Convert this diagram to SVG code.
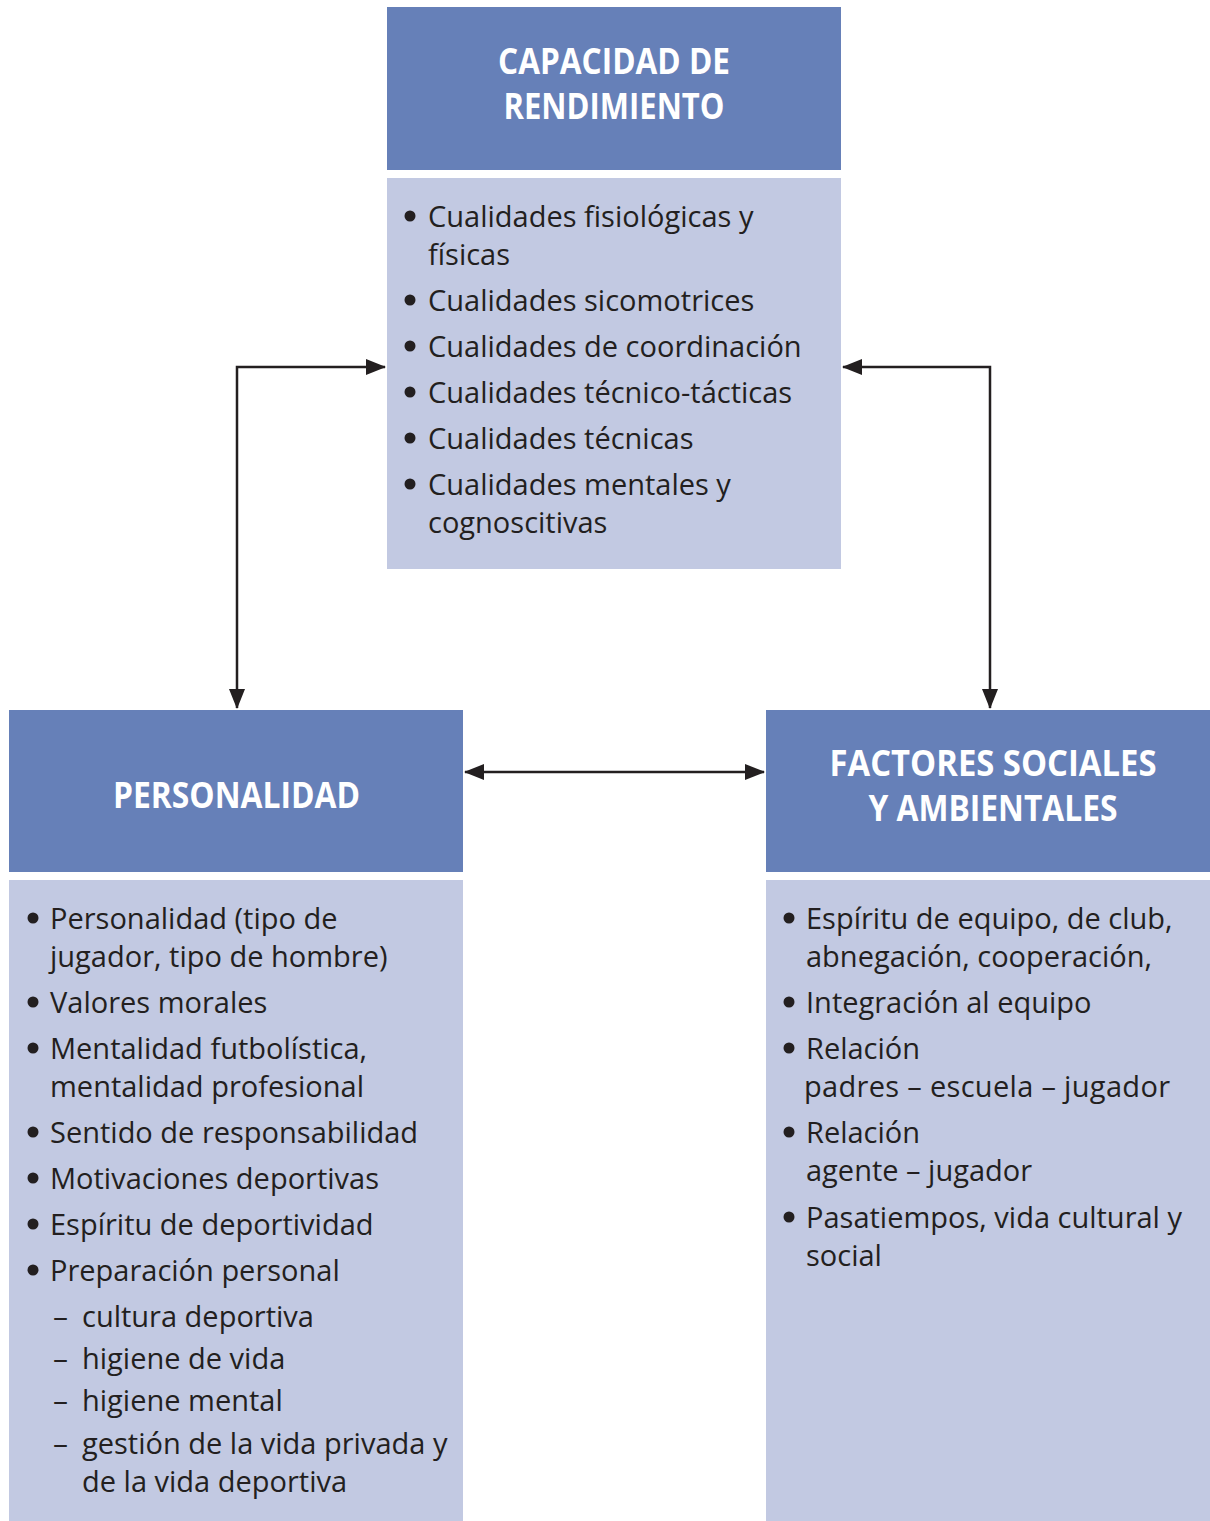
<svg xmlns="http://www.w3.org/2000/svg" width="1210" height="1521" viewBox="0 0 1210 1521">
<style>
.hd{fill:#6680B8}
.bd{fill:#C2C9E2}
.ht{font-family:"Open Sans","Noto Sans",sans-serif;font-weight:700;font-size:35px;fill:#ffffff;text-anchor:middle}
.t{font-family:"Open Sans","Noto Sans",sans-serif;font-size:29px;fill:#231F20}
.d{font-family:"Open Sans","Noto Sans",sans-serif;font-size:29px;fill:#231F20}
.b{fill:#231F20}
.c{fill:none;stroke:#231F20;stroke-width:2.5}
</style>
<defs>
<marker id="ah" viewBox="0 0 20 16" refX="19" refY="8" markerWidth="20" markerHeight="16" markerUnits="userSpaceOnUse" orient="auto-start-reverse">
<path d="M0,0 L20,8 L0,16 Z" fill="#231F20"/>
</marker>
</defs>
<rect width="1210" height="1521" fill="#ffffff"/>
<g id="capacidad">
<rect class="hd" x="387" y="7" width="454" height="163"/>
<rect class="bd" x="387" y="178" width="454" height="391"/>
<text class="ht" x="614" y="74" textLength="232" lengthAdjust="spacingAndGlyphs">CAPACIDAD DE</text>
<text class="ht" x="614" y="119" textLength="221" lengthAdjust="spacingAndGlyphs">RENDIMIENTO</text>
<circle class="b" cx="410" cy="216" r="5.5"/>
<circle class="b" cx="410" cy="300" r="5.5"/>
<circle class="b" cx="410" cy="346" r="5.5"/>
<circle class="b" cx="410" cy="392" r="5.5"/>
<circle class="b" cx="410" cy="438" r="5.5"/>
<circle class="b" cx="410" cy="484" r="5.5"/>
<text class="t" x="428" y="227">Cualidades fisiológicas y</text>
<text class="t" x="428" y="265">físicas</text>
<text class="t" x="428" y="311">Cualidades sicomotrices</text>
<text class="t" x="428" y="357">Cualidades de coordinación</text>
<text class="t" x="428" y="403">Cualidades técnico-tácticas</text>
<text class="t" x="428" y="449">Cualidades técnicas</text>
<text class="t" x="428" y="495">Cualidades mentales y</text>
<text class="t" x="428" y="533">cognoscitivas</text>
</g>
<g id="personalidad">
<rect class="hd" x="9" y="710" width="454" height="162"/>
<rect class="bd" x="9" y="880" width="454" height="641"/>
<text class="ht" x="236.5" y="808" textLength="247" lengthAdjust="spacingAndGlyphs">PERSONALIDAD</text>
<circle class="b" cx="33" cy="918" r="5.5"/>
<circle class="b" cx="33" cy="1002" r="5.5"/>
<circle class="b" cx="33" cy="1048" r="5.5"/>
<circle class="b" cx="33" cy="1132" r="5.5"/>
<circle class="b" cx="33" cy="1178" r="5.5"/>
<circle class="b" cx="33" cy="1224" r="5.5"/>
<circle class="b" cx="33" cy="1270" r="5.5"/>
<text class="t" x="50" y="929">Personalidad (tipo de</text>
<text class="t" x="50" y="967">jugador, tipo de hombre)</text>
<text class="t" x="50" y="1013">Valores morales</text>
<text class="t" x="50" y="1059">Mentalidad futbolística,</text>
<text class="t" x="50" y="1097">mentalidad profesional</text>
<text class="t" x="50" y="1143">Sentido de responsabilidad</text>
<text class="t" x="50" y="1189">Motivaciones deportivas</text>
<text class="t" x="50" y="1235">Espíritu de deportividad</text>
<text class="t" x="50" y="1281">Preparación personal</text>
<text class="d" x="53" y="1327" textLength="15" lengthAdjust="spacingAndGlyphs">–</text>
<text class="t" x="82" y="1327">cultura deportiva</text>
<text class="d" x="53" y="1369" textLength="15" lengthAdjust="spacingAndGlyphs">–</text>
<text class="t" x="82" y="1369">higiene de vida</text>
<text class="d" x="53" y="1411" textLength="15" lengthAdjust="spacingAndGlyphs">–</text>
<text class="t" x="82" y="1411">higiene mental</text>
<text class="d" x="53" y="1454" textLength="15" lengthAdjust="spacingAndGlyphs">–</text>
<text class="t" x="82" y="1454">gestión de la vida privada y</text>
<text class="t" x="82" y="1492">de la vida deportiva</text>
</g>
<g id="factores">
<rect class="hd" x="766" y="710" width="444" height="162"/>
<rect class="bd" x="766" y="880" width="444" height="641"/>
<text class="ht" x="993" y="776" textLength="327" lengthAdjust="spacingAndGlyphs">FACTORES SOCIALES</text>
<text class="ht" x="993" y="821" textLength="249" lengthAdjust="spacingAndGlyphs">Y AMBIENTALES</text>
<circle class="b" cx="789" cy="918" r="5.5"/>
<circle class="b" cx="789" cy="1002" r="5.5"/>
<circle class="b" cx="789" cy="1048" r="5.5"/>
<circle class="b" cx="789" cy="1132" r="5.5"/>
<circle class="b" cx="789" cy="1217" r="5.5"/>
<text class="t" x="806" y="929">Espíritu de equipo, de club,</text>
<text class="t" x="806" y="967">abnegación, cooperación,</text>
<text class="t" x="806" y="1013">Integración al equipo</text>
<text class="t" x="806" y="1059">Relación</text>
<text class="t" x="804" y="1097" textLength="366" lengthAdjust="spacing">padres – escuela – jugador</text>
<text class="t" x="806" y="1143">Relación</text>
<text class="t" x="806" y="1181">agente – jugador</text>
<text class="t" x="806" y="1228">Pasatiempos, vida cultural y</text>
<text class="t" x="806" y="1266">social</text>
</g>
<g id="connectors">
<path class="c" d="M385,367 H237 V708" marker-start="url(#ah)" marker-end="url(#ah)"/>
<path class="c" d="M843,367 H990 V708" marker-start="url(#ah)" marker-end="url(#ah)"/>
<path class="c" d="M465,772 H764" marker-start="url(#ah)" marker-end="url(#ah)"/>
</g>
</svg>
